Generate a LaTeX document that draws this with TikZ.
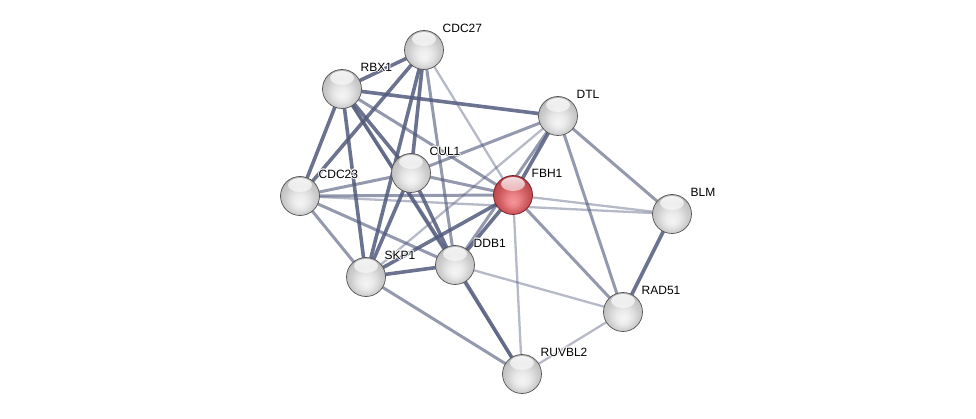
\documentclass[tikz,border=0pt]{standalone}
\usepackage{fontspec}
\setmainfont{Liberation Sans}
\usetikzlibrary{fadings}
\pgfdeclarelayer{edges}
\pgfsetlayers{edges,main}
\definecolor{edgecol}{RGB}{82,90,124}
\definecolor{g0}{RGB}{245,245,245}
\definecolor{g1}{RGB}{236,236,236}
\definecolor{g2}{RGB}{222,222,222}
\definecolor{g3}{RGB}{207,207,207}
\definecolor{g4}{RGB}{196,196,196}
\definecolor{g5}{RGB}{170,170,170}
\definecolor{g6}{RGB}{120,120,120}
\definecolor{r0}{RGB}{244,150,154}
\definecolor{r1}{RGB}{234,130,135}
\definecolor{r2}{RGB}{218,105,110}
\definecolor{r3}{RGB}{204,88,93}
\definecolor{r4}{RGB}{192,76,81}
\definecolor{r5}{RGB}{165,55,60}
\definecolor{r6}{RGB}{120,32,36}
\pgfdeclareradialshading{greyball}{\pgfpoint{0bp}{-9bp}}{color(0bp)=(g0); color(8bp)=(g1); color(14bp)=(g2); color(19bp)=(g3); color(24bp)=(g4); color(29bp)=(g5); color(35bp)=(g6)}
\pgfdeclareradialshading{redball}{\pgfpoint{0bp}{-9bp}}{color(0bp)=(r0); color(8bp)=(r1); color(14bp)=(r2); color(19bp)=(r3); color(24bp)=(r4); color(29bp)=(r5); color(35bp)=(r6)}
\newcommand{\haloTxt}[1]{\leavevmode\rlap{\color{white}\kern0.9pt#1}\rlap{\color{white}\kern-0.9pt#1}\rlap{\color{white}\raisebox{0.9pt}{#1}}\rlap{\color{white}\raisebox{-0.9pt}{#1}}\rlap{\color{white}\kern0.7pt\raisebox{0.7pt}{#1}}\rlap{\color{white}\kern-0.7pt\raisebox{-0.7pt}{#1}}\rlap{\color{white}\kern0.7pt\raisebox{-0.7pt}{#1}}\rlap{\color{white}\kern-0.7pt\raisebox{0.7pt}{#1}}#1}
\tikzset{
  protnode/.style={circle, minimum size=39pt, inner sep=0pt, shading=greyball,
    draw=gray!65!black, line width=0.7pt,
    path picture={\fill[white,opacity=0.85,path fading=south] ([yshift=11pt]path picture bounding box.center) ellipse (12pt and 7pt);}},
  querynode/.style={protnode, shading=redball, draw=r6},
  lab/.style={anchor=west, inner sep=0pt, font=\fontsize{12}{14}\selectfont, text=black},
  sE/.style={draw=edgecol, line width=3.6pt, draw opacity=0.85},
  mE/.style={draw=edgecol, line width=3pt, draw opacity=0.62},
  lE/.style={draw=edgecol, line width=2.3pt, draw opacity=0.42},
}
\begin{document}
\begin{tikzpicture}[x=1pt,y=-1pt]
\useasboundingbox (0,0) rectangle (976,419);
% nodes
\node[protnode] (CDC27) at (424,50) {};
\node[protnode] (RBX1) at (342,89) {};
\node[protnode] (DTL) at (558,116) {};
\node[protnode] (CUL1) at (411,173) {};
\node[querynode] (FBH1) at (513,195) {};
\node[protnode] (CDC23) at (300,196) {};
\node[protnode] (BLM) at (672,214) {};
\node[protnode] (SKP1) at (366,277) {};
\node[protnode] (DDB1) at (455,265) {};
\node[protnode] (RAD51) at (623,312) {};
\node[protnode] (RUVBL2) at (522,374) {};
% labels
\path (CDC27.center) ++(18.5,-22) node[lab] (lCDC27) {\haloTxt{CDC27}};
\path (RBX1.center) ++(18.5,-22) node[lab] (lRBX1) {\haloTxt{RBX1}};
\path (DTL.center) ++(18.5,-22) node[lab] (lDTL) {\haloTxt{DTL}};
\path (CUL1.center) ++(18.5,-22) node[lab] (lCUL1) {\haloTxt{CUL1}};
\path (FBH1.center) ++(18.5,-22) node[lab] (lFBH1) {\haloTxt{FBH1}};
\path (CDC23.center) ++(18.5,-22) node[lab] (lCDC23) {\haloTxt{CDC23}};
\path (BLM.center) ++(18.5,-22) node[lab] (lBLM) {\haloTxt{BLM}};
\path (SKP1.center) ++(18.5,-22) node[lab] (lSKP1) {\haloTxt{SKP1}};
\path (DDB1.center) ++(18.5,-22) node[lab] (lDDB1) {\haloTxt{DDB1}};
\path (RAD51.center) ++(18.5,-22) node[lab] (lRAD51) {\haloTxt{RAD51}};
\path (RUVBL2.center) ++(18.5,-22) node[lab] (lRUVBL2) {\haloTxt{RUVBL2}};
% edges
\begin{pgfonlayer}{edges}
% light
\draw[lE] (CDC27.center) -- (FBH1.center);
\draw[lE] (DTL.center) -- (SKP1.center);
\draw[lE] (CDC23.center) -- (BLM.center);
\draw[lE] (FBH1.center) -- (BLM.center);
\draw[lE] (FBH1.center) -- (RUVBL2.center);
\draw[lE] (DDB1.center) -- (RAD51.center);
\draw[lE] (RAD51.center) -- (RUVBL2.center);
\draw[lE] (RBX1.center) -- (RUVBL2.center);
% medium
\draw[mE] (CDC27.center) -- (DDB1.center);
\draw[mE] (RBX1.center) -- (FBH1.center);
\draw[mE] (DTL.center) -- (CUL1.center);
\draw[mE] (DTL.center) -- (DDB1.center);
\draw[mE] (DTL.center) -- (BLM.center);
\draw[mE] (DTL.center) -- (RAD51.center);
\draw[mE] (FBH1.center) -- (CUL1.center);
\draw[mE] (FBH1.center) -- (CDC23.center);
\draw[mE] (FBH1.center) -- (RAD51.center);
\draw[mE] (CDC23.center) -- (CUL1.center);
\draw[mE] (CDC23.center) -- (SKP1.center);
\draw[mE] (CDC23.center) -- (DDB1.center);
\draw[mE] (SKP1.center) -- (RUVBL2.center);
% strong
\draw[sE] (CDC27.center) -- (RBX1.center);
\draw[sE] (CDC27.center) -- (CDC23.center);
\draw[sE] (CDC27.center) -- (CUL1.center);
\draw[sE] (CDC27.center) -- (SKP1.center);
\draw[sE] (RBX1.center) -- (DTL.center);
\draw[sE] (RBX1.center) -- (CDC23.center);
\draw[sE] (RBX1.center) -- (SKP1.center);
\draw[sE] (RBX1.center) -- (CUL1.center);
\draw[sE] (RBX1.center) -- (DDB1.center);
\draw[sE] (CUL1.center) -- (SKP1.center);
\draw[sE] (CUL1.center) -- (DDB1.center);
\draw[sE] (SKP1.center) -- (DDB1.center);
\draw[sE] (DTL.center) -- (FBH1.center);
\draw[sE] (DDB1.center) -- (FBH1.center);
\draw[sE] (FBH1.center) -- (SKP1.center);
\draw[sE] (BLM.center) -- (RAD51.center);
\draw[sE] (DDB1.center) -- (RUVBL2.center);
\end{pgfonlayer}
\end{tikzpicture}
\end{document}
